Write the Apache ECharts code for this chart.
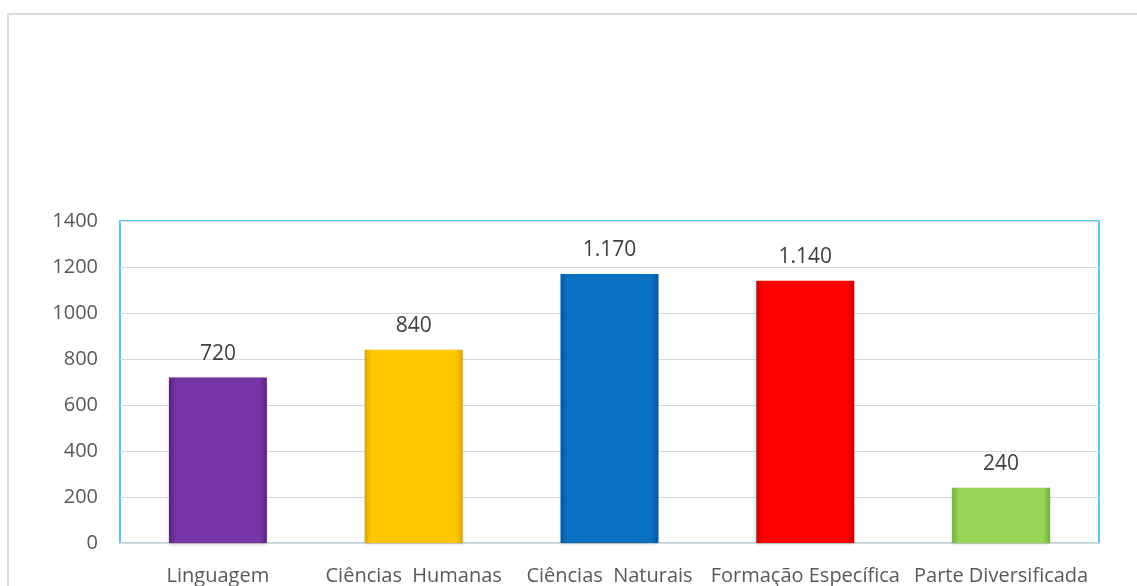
<!DOCTYPE html>
<html>
<head>
<meta charset="utf-8">
<script src="https://cdn.jsdelivr.net/npm/echarts@6/dist/echarts.min.js"></script>
<style>
html,body{margin:0;padding:0;background:#fff;}
#chart{width:1137px;height:586px;}
</style>
</head>
<body>
<div id="chart"></div>
<script>
const categories = ['Linguagem', 'Ciências  Humanas', 'Ciências  Naturais', 'Formação Específica', 'Parte Diversificada'];
const values = [720, 840, 1170, 1140, 240];
const barColors = ['#7634A6', '#FFC800', '#0A70C2', '#FF0000', '#96D656'];
const barEdges = ['#5A2380', '#D9A800', '#06569A', '#C80000', '#74AE3C'];
const yTicks = [0, 200, 400, 600, 800, 1000, 1200, 1400];

function fmt(v) {
  return String(v).replace(/\B(?=(\d{3})+(?!\d))/g, '.');
}

const chart = echarts.init(document.getElementById('chart'));
const font = '"Open Sans", "Liberation Sans", sans-serif';

chart.setOption({
  animation: false,
  backgroundColor: '#fff',
  graphic: [{
    type: 'rect',
    shape: { x: 8, y: 14, width: 1140, height: 590 },
    style: { fill: 'none', stroke: '#D9D9D9', lineWidth: 2 },
    silent: true
  }],
  grid: {
    left: 120, right: 38, top: 221, bottom: 43,
    show: true, borderColor: '#1AB4F0', borderWidth: 1.5, containLabel: false
  },
  xAxis: {
    type: 'category',
    data: categories,
    axisLine: { show: true, lineStyle: { color: '#D9D9D9', width: 1.5 } },
    axisTick: { show: false },
    axisLabel: { color: '#595959', fontSize: 20, fontFamily: font, margin: 23, interval: 0 }
  },
  yAxis: {
    type: 'value',
    min: yTicks[0], max: yTicks[yTicks.length - 1], interval: 200,
    axisLine: { show: false },
    axisTick: { show: false },
    splitLine: { lineStyle: { color: '#D9D9D9', width: 1.2 } },
    axisLabel: { color: '#595959', fontSize: 20, fontFamily: font, margin: 22, formatter: v => String(v) }
  },
  series: [{
    type: 'bar',
    barWidth: '50%',
    data: values.map((v, i) => ({
      value: v,
      itemStyle: {
        color: new echarts.graphic.LinearGradient(0, 0, 1, 0, [
          { offset: 0, color: barEdges[i] },
          { offset: 0.07, color: barColors[i] },
          { offset: 0.93, color: barColors[i] },
          { offset: 1, color: barEdges[i] }
        ]),
        shadowColor: 'rgba(0,0,0,0.25)', shadowBlur: 3, shadowOffsetY: 1
      }
    })),
    label: {
      show: true, position: 'top', distance: 13,
      color: '#404040', fontSize: 21, fontFamily: font,
      formatter: p => fmt(p.value)
    }
  }]
});
</script>
</body>
</html>
